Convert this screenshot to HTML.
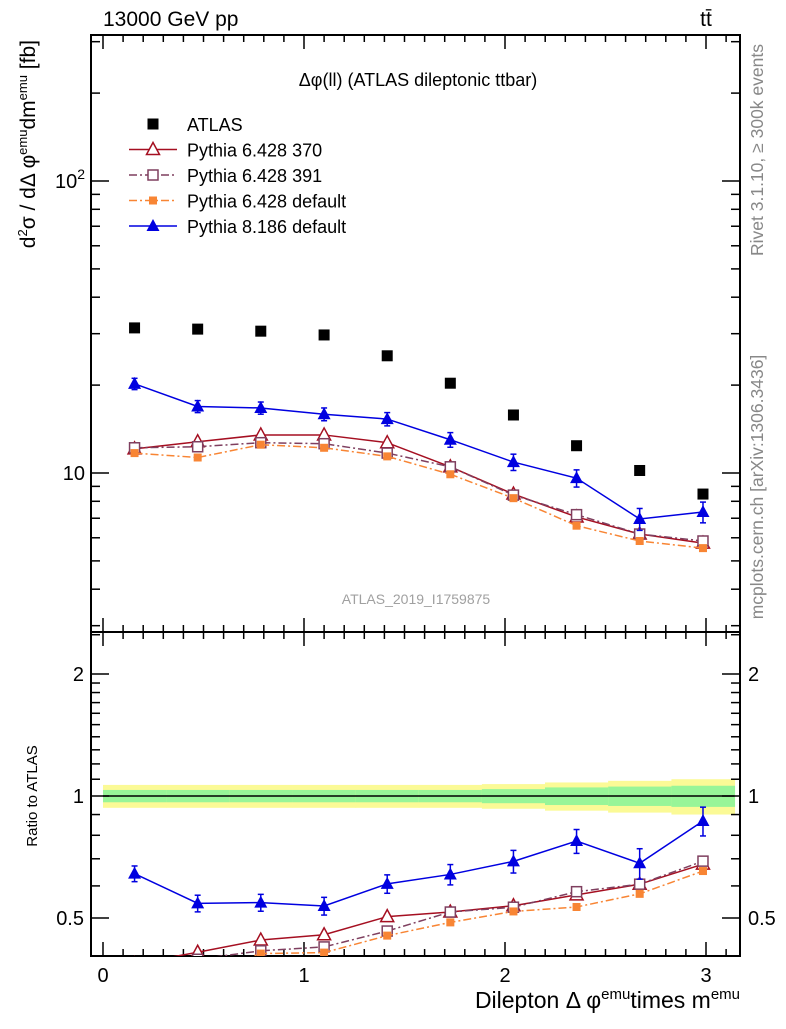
<!DOCTYPE html>
<html><head><meta charset="utf-8"><style>
body{margin:0;background:#fff;font-family:"Liberation Sans",sans-serif}
svg text{font-family:"Liberation Sans","DejaVu Sans",sans-serif}
</style></head><body>
<svg id="c" width="786" height="1024" xmlns="http://www.w3.org/2000/svg"></svg>
<script>
const centers=[0.157,0.471,0.785,1.100,1.414,1.728,2.042,2.356,2.670,2.985];
const atlas=[31.4,31.1,30.6,29.7,25.2,20.3,15.8,12.4,10.2,8.47];
const atlasRelErr=[0.065,0.065,0.065,0.065,0.065,0.065,0.07,0.08,0.09,0.1];
const atlasRelErrIn=[0.035,0.035,0.035,0.035,0.035,0.035,0.04,0.05,0.055,0.06];
const py370=[12.1,12.8,13.5,13.5,12.7,10.5,8.47,7.07,6.18,5.75];
const py391=[12.2,12.3,12.7,12.6,11.7,10.5,8.4,7.2,6.18,5.85];
const py6def=[11.7,11.3,12.5,12.2,11.4,9.9,8.2,6.6,5.85,5.53];
const py8=[20.2,16.9,16.7,15.9,15.3,13.0,10.9,9.6,6.96,7.35];
const py8err=[0.9,0.8,0.8,0.8,0.8,0.75,0.7,0.65,0.6,0.6];
const xTicks=[0,1,2,3];
const ratioTicks=[0.5,1,2];

const S=document.getElementById('c'),NS='http://www.w3.org/2000/svg';
function el(t,a,p){const e=document.createElementNS(NS,t);for(const k in a)e.setAttribute(k,a[k]);(p||S).appendChild(e);return e;}
const L=91,R=740,T=35,M=632,B=956;
const X=v=>103+v*201;
const Y=v=>473-(Math.log10(v)-1)*292;
const YR=v=>796-Math.log2(v)*122;
const yMin=Math.pow(10,1-(M-473)/292),yMax=Math.pow(10,1+(473-T)/292);
const rMin=Math.pow(2,-(B-796)/122),rMax=Math.pow(2,(796-M)/122);

const defs=el('defs',{});
const c1=el('clipPath',{id:'cm'},defs);el('rect',{x:L,y:T,width:R-L,height:M-T},c1);
const c2=el('clipPath',{id:'cr'},defs);el('rect',{x:L,y:M,width:R-L,height:B-M},c2);

const band=el('g',{'clip-path':'url(#cr)'});


const w=0.157;
centers.forEach((c,i)=>{
 const x0=X(c-w),x1=X(c+w)+0.5;
 el('rect',{x:x0,y:YR(1+atlasRelErr[i]),width:x1-x0,height:YR(1-atlasRelErr[i])-YR(1+atlasRelErr[i]),fill:'#fbfa96'},band);
 el('rect',{x:x0,y:YR(1+atlasRelErrIn[i]),width:x1-x0,height:YR(1-atlasRelErrIn[i])-YR(1+atlasRelErrIn[i]),fill:'#98f598'},band);
});
el('line',{x1:X(centers[0]-w),x2:X(centers[9]+w),y1:YR(1),y2:YR(1),stroke:'#000','stroke-width':1.5},band);

const f1=el('rect',{x:L,y:T,width:R-L,height:M-T,fill:'none',stroke:'#000','stroke-width':2});

const f2=el('rect',{x:L,y:M,width:R-L,height:B-M,fill:'none',stroke:'#000','stroke-width':2});


for(let k=0;k<=31;k++){const v=k/10,x=X(v);if(x<L||x>R)continue;const maj=k%10==0;const len=maj?14:7;
 [T,M].forEach(y0=>el('line',{x1:x,x2:x,y1:y0,y2:y0+len,stroke:'#000','stroke-width':1.5}));
 [M,B].forEach(y0=>el('line',{x1:x,x2:x,y1:y0,y2:y0-len,stroke:'#000','stroke-width':1.5}));}
xTicks.forEach(v=>{const t=el('text',{x:X(v),y:982,'font-size':20,'text-anchor':'middle'});t.textContent=v;
 });
for(let d=0;d<=2;d++)for(let m=1;m<=9;m++){const v=m*Math.pow(10,d);if(v<yMin||v>yMax)continue;const y=Y(v),len=m==1?18:9;
 el('line',{x1:L,x2:L+len,y1:y,y2:y,stroke:'#000','stroke-width':1.5});el('line',{x1:R,x2:R-len,y1:y,y2:y,stroke:'#000','stroke-width':1.5});}
let t=el('text',{x:85,y:480,'font-size':20,'text-anchor':'end'});t.textContent='10';

t=el('text',{x:85,y:188,'font-size':20,'text-anchor':'end'});t.innerHTML='10<tspan dy="-9" font-size="14">2</tspan>';

for(let k=4;k<=25;k++){const v=k/10;if(v<rMin||v>rMax)continue;if(v>2&&k%5)continue;const y=YR(v),maj=ratioTicks.includes(v),len=maj?18:9;
 el('line',{x1:L,x2:L+len,y1:y,y2:y,stroke:'#000','stroke-width':1.5});el('line',{x1:R,x2:R-len,y1:y,y2:y,stroke:'#000','stroke-width':1.5});}
ratioTicks.forEach(v=>{[[84,'end'],[748,'start']].forEach(([x,a])=>{const q=el('text',{x:x,y:YR(v)+7,'font-size':20,'text-anchor':a});q.textContent=v;
 });});

function marker(g,type,x,y,col){
 if(type=='sq')el('rect',{x:x-5.5,y:y-5.5,width:11,height:11,fill:'#000'},g);
 else if(type=='tri')el('polygon',{points:`${x},${y-7} ${x-6.5},${y+5} ${x+6.5},${y+5}`,fill:col},g);
 else if(type=='otri')el('polygon',{points:`${x},${y-7} ${x-6.5},${y+5} ${x+6.5},${y+5}`,fill:'#fff',stroke:col,'stroke-width':1.5},g);
 else if(type=='osq')el('rect',{x:x-5,y:y-5,width:10,height:10,fill:'#fff',stroke:col,'stroke-width':1.5},g);
 else if(type=='fsq')el('rect',{x:x-4,y:y-4,width:8,height:8,fill:col},g);
}
const series=[
 {name:'pythia-6428-370',vals:py370,col:'#a50f21',dash:'',m:'otri'},
 {name:'pythia-6428-391',vals:py391,col:'#7f3f5f',dash:'8,3,2,3',m:'osq'},
 {name:'pythia-6428-default',vals:py6def,col:'#f88534',dash:'8,3,2,3',m:'fsq'},
 {name:'pythia-8186-default',vals:py8,col:'#0000e0',dash:'',m:'tri',err:py8err}];
series.forEach(s=>{
 [['cm',Y,'main'],['cr',YR,'ratio']].forEach(([cp,yf,tag])=>{
  const g=el('g',{'clip-path':`url(#${cp})`});
  
  const vals=s.vals.map((v,i)=>tag=='main'?v:v/atlas[i]);
  el('polyline',{points:centers.map((c,i)=>X(c)+','+yf(vals[i])).join(' '),fill:'none',stroke:s.col,'stroke-width':1.5,'stroke-dasharray':s.dash},g);
  centers.forEach((c,i)=>{
   if(s.err){const e=tag=='main'?s.err[i]:s.err[i]/atlas[i];const x=X(c);
    el('line',{x1:x,x2:x,y1:yf(vals[i]+e),y2:yf(vals[i]-e),stroke:s.col,'stroke-width':1.5},g);
    [vals[i]+e,vals[i]-e].forEach(v=>el('line',{x1:x-3,x2:x+3,y1:yf(v),y2:yf(v),stroke:s.col,'stroke-width':1.5},g));}
   marker(g,s.m,X(c),yf(vals[i]),s.col);});
 });
});
const ga=el('g',{'clip-path':'url(#cm)'});

centers.forEach((c,i)=>marker(ga,'sq',X(c),Y(atlas[i])));

const lg=el('g',{});
const items=[['ATLAS','sq','#000',''],['Pythia 6.428 370','otri','#a50f21',''],['Pythia 6.428 391','osq','#7f3f5f','8,3,2,3'],['Pythia 6.428 default','fsq','#f88534','8,3,2,3'],['Pythia 8.186 default','tri','#0000e0','']];
items.forEach((it,i)=>{const y=124+i*25.5;const g=el('g',{},lg);
 
 if(i>0)el('line',{x1:129,x2:177,y1:y,y2:y,stroke:it[2],'stroke-width':1.5,'stroke-dasharray':it[3]},g);
 marker(g,it[1],153,y,it[2]);
 const q=el('text',{x:187,y:y+7,'font-size':18},g);q.textContent=it[0];});

function txt(x,y,s,attrs,name,html){const q=el('text',Object.assign({x:x,y:y},attrs));if(html)q.innerHTML=s;else q.textContent=s;
 return q;}
txt(418,86,'Δφ(ll) (ATLAS dileptonic ttbar)',{'font-size':18,'text-anchor':'middle'},'plot-title');
txt(103,26,'13000 GeV pp',{'font-size':21},'beam-label');
txt(706,26,'tt̄',{'font-size':21,'text-anchor':'middle'},'process-label');
txt(416,604,'ATLAS_2019_I1759875',{'font-size':14,'text-anchor':'middle',fill:'#a0a0a0'},'analysis-id');
txt(0,0,'d<tspan dy="-8" font-size="13">2</tspan><tspan dy="8">σ / dΔ φ</tspan><tspan dy="-8" font-size="13">emu</tspan><tspan dy="8">dm</tspan><tspan dy="-8" font-size="13">emu</tspan><tspan dy="8"> [fb]</tspan>',{'font-size':21,'text-anchor':'end',transform:'translate(35,40) rotate(-90)'},'y-axis-title',true);
txt(0,0,'Ratio to ATLAS',{'font-size':15,'text-anchor':'middle',transform:'translate(37,796) rotate(-90)'},'ratio-axis-title');
txt(740,1008,'Dilepton Δ φ<tspan dy="-9" font-size="15">emu</tspan><tspan dy="9">times m</tspan><tspan dy="-9" font-size="15">emu</tspan>',{'font-size':23,'text-anchor':'end'},'x-axis-title',true);
txt(0,0,'Rivet 3.1.10, ≥ 300k events',{'font-size':17.5,'text-anchor':'middle',fill:'#888',transform:'translate(763,150) rotate(-90)'},'rivet-label');
txt(0,0,'mcplots.cern.ch [arXiv:1306.3436]',{'font-size':17.5,'text-anchor':'middle',fill:'#888',transform:'translate(763,487) rotate(-90)'},'mcplots-label');
</script>
</body></html>
